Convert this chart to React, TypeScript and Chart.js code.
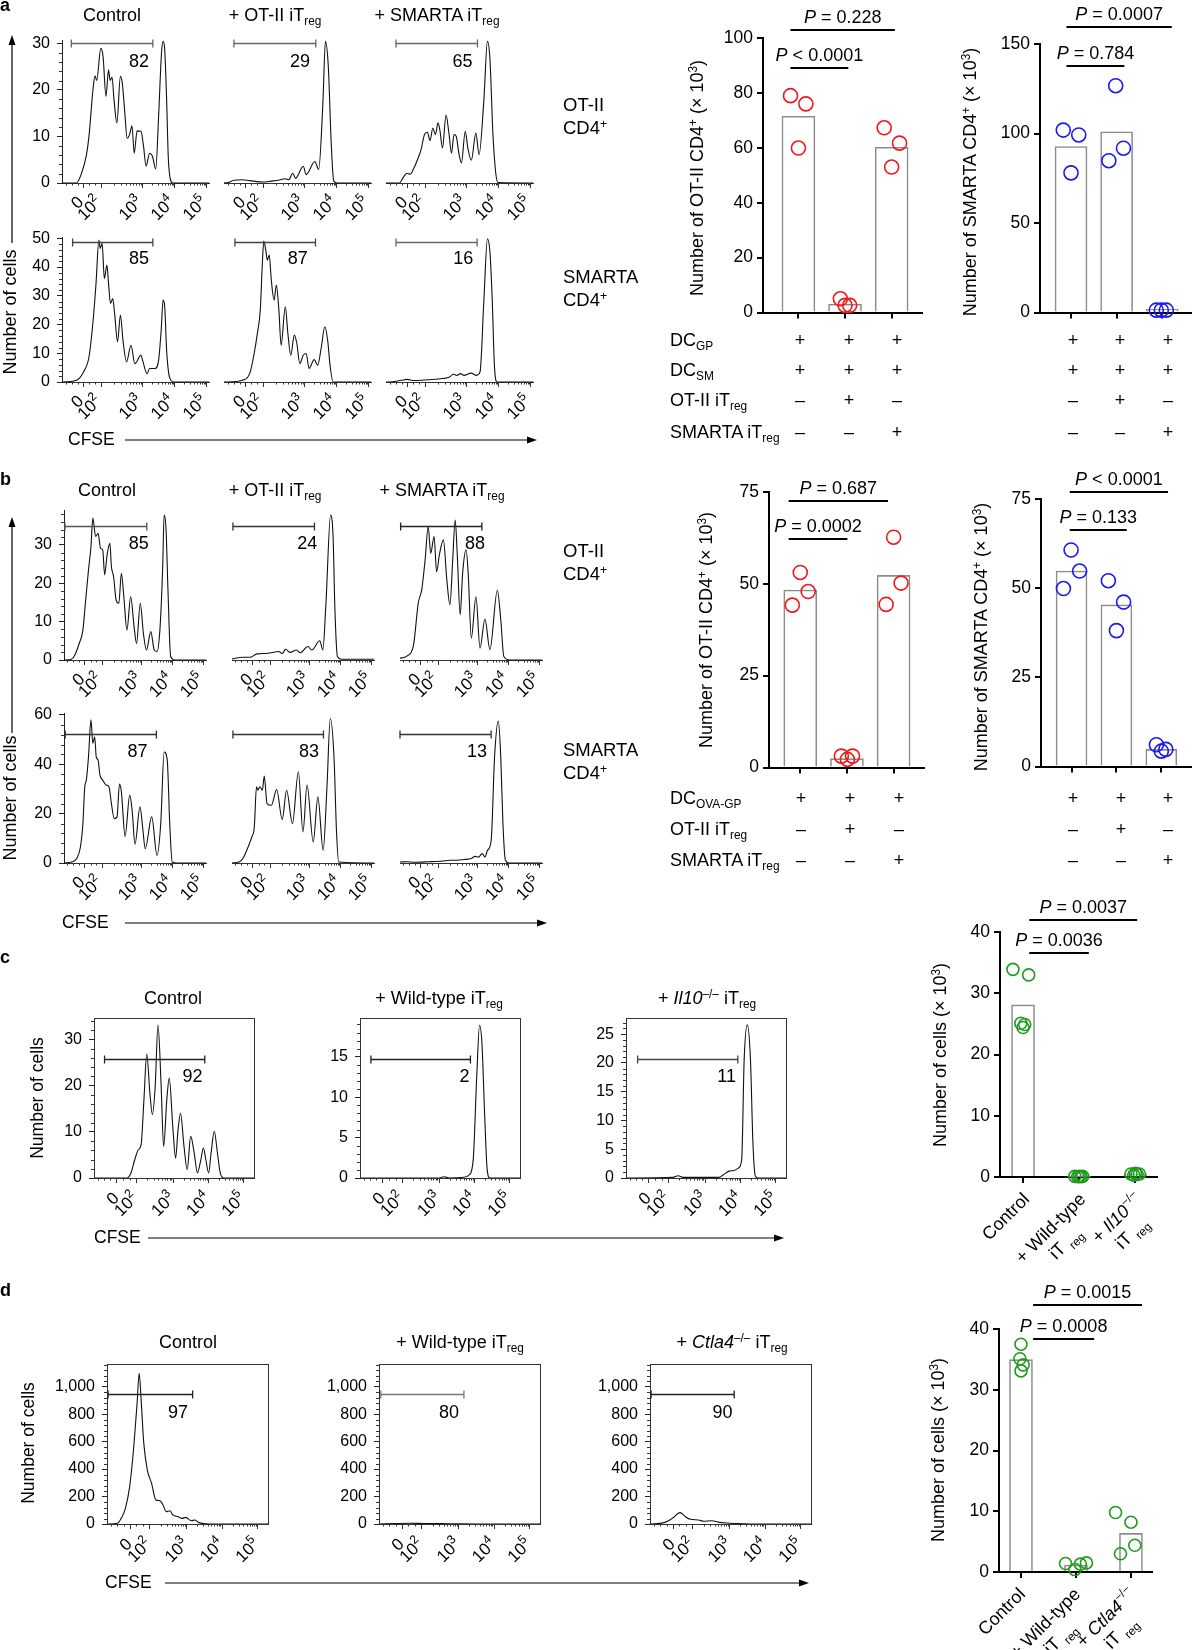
import React, { useEffect, useRef } from 'react';
import { Chart, registerables } from 'chart.js';

Chart.register(...registerables);

const FONT = '"Liberation Sans", Arial, Helvetica, sans-serif';
Chart.defaults.font.family = FONT;
Chart.defaults.color = '#000';

/* ---------------- tick labels ---------------- */
const X_TICK_BASE = ['0', '10', '10', '10', '10'];
const X_TICK_EXP = ['', '2', '3', '4', '5'];
const X_TICKS_AB = [1.16, 1.72, 3, 4, 5];
const X_TICKS_CD = [1.4, 1.95, 3, 4, 5];

/* ---------------- histogram series: [CFSE position, number of cells] ---------------- */
const aControlOT = [[0.49,0],[0.94,0],[1.10,2.1],[1.25,6],[1.33,10],[1.46,20.4],[1.52,23],[1.57,22],[1.70,28.9],[1.77,27.1],[1.86,18.6],[1.94,24.3],[1.99,22],[2.05,22.7],[2.11,17.9],[2.20,12.9],[2.31,22.9],[2.37,21.4],[2.44,15.7],[2.52,9.6],[2.60,10.5],[2.67,12.3],[2.74,6.4],[2.83,11.2],[2.95,11.1],[3.03,7.9],[3.11,3.6],[3.22,6.4],[3.31,5.7],[3.41,3.0],[3.50,14.3],[3.59,27.9],[3.64,30.4],[3.69,28.6],[3.75,17.9],[3.80,5.7],[3.87,0.7],[3.95,0],[5.07,0]];
const aOTiTregOT = [[0.49,0],[0.62,0.1],[0.8,0.6],[1.06,0.7],[1.29,0.5],[1.73,0.2],[1.96,0.4],[2.18,0.6],[2.40,0.9],[2.51,0.7],[2.63,2.1],[2.72,1.0],[2.96,3.6],[3.05,1.8],[3.32,4.6],[3.44,2.9],[3.57,17],[3.65,30.4],[3.74,25],[3.83,8.6],[3.91,0.4],[4.02,0],[5.07,0]];
const aSMiTregOT = [[0.49,0],[0.91,0],[1.02,1.1],[1.14,2.1],[1.25,1.9],[1.36,3.2],[1.47,5],[1.58,7.1],[1.69,10.4],[1.78,10.9],[1.86,9.1],[1.95,11.8],[2.03,10.4],[2.11,12.9],[2.17,11.3],[2.25,7.5],[2.36,14.6],[2.45,10.7],[2.53,6.4],[2.61,10.4],[2.68,10.0],[2.76,6.4],[2.84,4.3],[2.96,11.1],[3.04,7.5],[3.15,4.9],[3.29,10.7],[3.39,6.1],[3.54,17.9],[3.65,30.4],[3.73,26.4],[3.82,10.7],[3.91,2.1],[3.98,0.1],[5.07,0]];
const aControlSM = [[0.49,0],[0.52,0],[0.94,0.6],[1.16,3.5],[1.33,8.7],[1.46,21.5],[1.55,34.3],[1.64,49.4],[1.68,46.5],[1.74,48.3],[1.81,36],[1.89,40.7],[1.94,34.3],[2.00,27.3],[2.07,29],[2.13,23.8],[2.22,14],[2.31,23.3],[2.39,14.5],[2.50,7],[2.64,12.8],[2.76,6.4],[2.95,9.3],[3.00,7.6],[3.14,2.9],[3.22,4.7],[3.39,4.7],[3.50,7.6],[3.58,18],[3.64,28.5],[3.69,26.2],[3.75,11],[3.84,1.7],[3.98,0],[5.07,0]];
const aOTiTregSM = [[0.49,0],[0.62,0],[1.06,0.6],[1.29,2.9],[1.42,9.3],[1.53,16.9],[1.62,25],[1.68,40],[1.73,49],[1.79,46],[1.84,42.4],[1.90,44.2],[1.96,36],[2.05,28.5],[2.12,33.7],[2.20,25],[2.27,12.8],[2.40,26.2],[2.48,16.9],[2.57,9.3],[2.68,16.3],[2.76,13.4],[2.85,6.4],[2.96,9.3],[3.05,9.9],[3.14,4.7],[3.30,7.8],[3.41,5.8],[3.52,12],[3.63,19.2],[3.72,14.5],[3.80,5.2],[3.89,0],[5.07,0]];
const aSMiTregSM = [[0.49,0],[0.60,0],[0.97,0.6],[1.15,0.9],[1.36,0.5],[1.81,0.8],[2.25,1.2],[2.47,1.7],[2.58,2.7],[2.70,2.3],[2.81,2.9],[2.92,2.3],[3.14,3.1],[3.31,2.3],[3.42,3.5],[3.54,28.5],[3.65,49.8],[3.73,45],[3.80,28.5],[3.87,5.2],[3.95,0],[5.07,0]];

const bControlOT = [[0.49,0],[0.73,0.2],[0.84,1.3],[0.98,4.3],[1.10,7.8],[1.18,14.8],[1.28,23.5],[1.36,29.6],[1.42,37],[1.51,32.2],[1.59,33],[1.67,29.1],[1.74,28.7],[1.80,22.2],[1.88,27.4],[1.97,30.4],[2.02,24.3],[2.09,21.7],[2.17,15.7],[2.26,14.8],[2.34,22.6],[2.42,16.5],[2.52,7.8],[2.64,16.5],[2.75,8.7],[2.83,4.3],[2.95,14.8],[3.05,7],[3.15,2.6],[3.29,7.4],[3.40,2.6],[3.49,2.2],[3.59,8.7],[3.67,23.5],[3.72,37.8],[3.78,34.3],[3.84,19.1],[3.93,0.9],[4.07,0],[5.07,0]];
const bOTiTregOT = [[0.49,0.3],[0.84,0.7],[1.07,0.7],[1.30,1.6],[1.59,1.7],[1.76,1.9],[1.99,2.2],[2.11,1.7],[2.22,2.8],[2.36,2.0],[2.57,2.6],[2.69,1.9],[2.94,3.5],[3.06,2.6],[3.32,5.0],[3.42,2.6],[3.52,14.8],[3.67,37.8],[3.75,32.2],[3.81,13],[3.89,0.9],[4.01,0.2],[5.07,0.2]];
const bSMiTregOT = [[0.49,0.5],[0.51,0.5],[0.71,1.0],[0.92,3.6],[1.08,14.9],[1.19,18.3],[1.30,26.1],[1.40,34.8],[1.48,27.8],[1.59,32.2],[1.67,23.0],[1.76,27.4],[1.89,31.3],[2.00,20.9],[2.10,14.4],[2.19,26.1],[2.27,36.5],[2.34,26.9],[2.43,11.8],[2.51,22.6],[2.62,28.7],[2.69,22.6],[2.79,5.7],[2.94,16.5],[3.07,3.1],[3.23,10.7],[3.39,2.7],[3.63,18.2],[3.74,10.5],[3.84,0.9],[4.04,0],[5.07,0]];
const bControlSM = [[0.49,0],[0.73,0.4],[0.90,1.8],[1.02,6.5],[1.10,16],[1.16,30.9],[1.21,33.6],[1.28,43],[1.36,58],[1.42,48.5],[1.48,51.2],[1.53,43],[1.59,41.7],[1.65,35.6],[1.74,33.6],[1.85,31.6],[1.94,30.9],[2.02,24],[2.11,18],[2.20,18.7],[2.28,32],[2.34,29],[2.46,10.8],[2.61,27.5],[2.69,21],[2.78,7.6],[2.94,22.8],[3.03,14],[3.11,5.8],[3.32,18.7],[3.49,3.1],[3.61,16],[3.72,45],[3.82,41.7],[3.90,16],[3.98,0.4],[4.13,0],[5.07,0]];
const bOTiTregSM = [[0.49,0],[0.72,0.4],[0.84,1.8],[1.01,6.5],[1.13,10.6],[1.21,14.6],[1.28,30.9],[1.32,29.5],[1.39,30.9],[1.47,29.5],[1.53,35.2],[1.62,24.1],[1.76,23.4],[1.93,29.8],[2.11,17.6],[2.25,29.5],[2.44,16],[2.63,37],[2.78,12.6],[2.91,31.6],[3.11,8.5],[3.26,26.8],[3.43,5.1],[3.55,30],[3.66,58.6],[3.78,43],[3.86,13],[3.93,0.4],[5.07,0]];
const bSMiTregSM = [[0.49,0.4],[0.72,0.5],[0.95,0.3],[1.41,0.5],[1.87,0.8],[2.10,1.1],[2.33,1.1],[2.56,1.4],[2.79,1.8],[2.91,2.7],[3.02,2.4],[3.14,3.8],[3.23,2.4],[3.31,5.1],[3.43,9],[3.54,43],[3.66,57.5],[3.74,43],[3.81,16],[3.89,1.1],[4.00,0],[5.07,0]];

const cControl = [[0.75,0],[1.69,0],[1.80,1.1],[1.91,4],[2.01,6.1],[2.09,7.2],[2.17,16.9],[2.25,26.8],[2.34,18.3],[2.41,13.7],[2.49,19.8],[2.57,33.1],[2.66,19.8],[2.73,6.8],[2.82,16.9],[2.89,21.6],[2.99,11.2],[3.07,4.3],[3.14,10.4],[3.21,14],[3.31,6.8],[3.40,1.8],[3.50,9],[3.60,5.4],[3.69,1.1],[3.79,4],[3.86,6.5],[3.93,4],[4.01,1.1],[4.08,5.4],[4.17,10.1],[4.26,5.4],[4.34,1.1],[4.44,0],[5.3,0]];
const cWildType = [[0.75,0],[3.0,0],[3.13,0.15],[3.3,0],[3.71,0.1],[3.86,0.4],[3.97,2.3],[4.07,12.6],[4.15,18.9],[4.22,16.5],[4.29,8.4],[4.36,1.4],[4.44,0],[5.3,0]];
const cIl10 = [[0.75,0],[2.09,0.1],[2.23,0.4],[2.37,0.1],[3.39,0.1],[3.53,0.6],[3.68,1.2],[3.82,1.3],[3.94,1.7],[4.04,3.2],[4.11,20.5],[4.20,26.6],[4.29,20.5],[4.36,6],[4.43,0.3],[4.5,0],[5.3,0]];

const dControl = [[0.75,0],[1.05,5],[1.15,41],[1.27,114],[1.39,272],[1.49,515],[1.60,879],[1.66,1097],[1.72,880],[1.79,587],[1.89,393],[2.01,296],[2.13,175],[2.24,170],[2.31,150],[2.43,90],[2.53,97],[2.61,66],[2.76,53],[2.87,41],[2.98,48],[3.13,24],[3.23,29],[3.35,10],[3.65,0],[5.3,0]];
const dWildType = [[0.75,0],[1.2,3],[1.6,5],[2.0,4],[2.5,3],[3.0,1],[3.5,0],[5.3,0]];
const dCtla4 = [[0.75,0],[1.15,10],[1.38,41],[1.60,83],[1.74,55],[1.89,34],[2.12,29],[2.27,20],[2.49,24],[2.71,12],[2.93,7],[3.38,2],[3.6,0],[5.3,0]];

/* ---------------- gates: [from, to, level] and percentages ---------------- */
const gatesA = [[0.78,3.32,30.1],[0.80,3.35,30.1],[0.80,3.34,30.1],[0.82,3.32,48.8],[0.83,3.34,48.8],[0.80,3.33,48.8]];
const pctA = ['82', '29', '65', '85', '87', '16'];
const pctPosA = [[2.89,26.0],[2.86,26.0],[2.87,26.0],[2.89,42.7],[2.79,42.7],[2.90,42.7]];
const gatesB = [[0.52,3.16,35.0],[0.52,3.15,35.0],[0.51,3.13,35.0],[0.53,3.47,52.3],[0.52,3.44,52.3],[0.49,3.43,52.3]];
const pctB = ['85', '24', '88', '87', '83', '13'];
const pctPosB = [[2.90,30.2],[2.92,30.2],[2.91,30.2],[2.86,45.1],[2.97,45.1],[2.97,45.1]];
const gatesC = [[1.05,3.90,25.7],[1.06,3.89,14.7],[1.08,3.93,20.7]];
const pctC = ['92', '2', '11'];
const pctPosC = [[3.55,21.9],[3.72,12.5],[3.61,17.6]];
const gatesD = [[0.78,3.17,944],[0.80,3.15,944],[0.78,3.13,944]];
const pctD = ['97', '80', '90'];
const pctPosD = [[2.76,806],[2.73,806],[2.80,806]];

/* ---------------- bar charts: means and individual mice [x jitter, value] ---------------- */
const barsA1 = [71.5, 3.0, 60.2];
const dotsA1 = [[-0.17,79.0],[0.16,76.0],[0.0,59.9],[0.90,5.0],[1.0,2.6],[1.1,2.6],[1.84,67.3],[2.17,61.7],[2.0,53.0]];
const barsA2 = [92.7, 101.0, 1.8];
const dotsA2 = [[-0.17,101.9],[0.17,99.2],[0.0,78.0],[0.98,126.7],[0.83,84.8],[1.15,91.8],[1.87,1.3],[1.98,1.3],[2.09,1.3]];
const barsB1 = [48.3, 2.4, 52.3];
const dotsB1 = [[0.0,53.1],[0.17,47.9],[-0.17,44.2],[0.88,3.1],[1.12,3.1],[1.01,2.2],[2.0,62.7],[2.16,50.2],[1.84,44.4]];
const barsB2 = [54.8, 45.3, 4.8];
const dotsB2 = [[-0.01,60.7],[0.18,54.8],[-0.18,49.9],[0.82,52.1],[1.16,46.1],[1.0,38.1],[1.89,6.1],[2.0,4.3],[2.1,4.8]];
const barsC = [28.1, 0.1, 0.4];
const dotsC = [[-0.18,33.9],[0.10,33.0],[-0.04,25.1],[0.0,24.4],[0.03,24.9],[0.92,0.1],[0.97,0.05],[1.0,0.1],[1.03,0.05],[1.06,0.1],[1.92,0.5],[1.97,0.3],[2.0,0.6],[2.03,0.4],[2.07,0.5]];
const barsD = [34.95, 1.15, 6.35];
const dotsD = [[0.0,37.5],[-0.02,35.1],[0.04,34.1],[0.0,33.1],[0.81,1.4],[0.98,0.4],[1.08,1.3],[1.19,1.5],[1.72,9.8],[2.0,8.2],[2.07,4.4],[1.81,3.0]];

/* P-value brackets: [from, to, level, text after P] */
const brA1 = [[-0.17, 1.07, 89, ' < 0.0001'], [-0.17, 2.07, 103, ' = 0.228']];
const brA2 = [[-0.1, 1.17, 137.7, ' = 0.784'], [-0.1, 2.21, 159.4, ' = 0.0007']];
const brB1 = [[-0.25, 1.01, 62.1, ' = 0.0002'], [-0.25, 1.88, 72.6, ' = 0.687']];
const brB2 = [[-0.04, 1.23, 66.3, ' = 0.133'], [-0.04, 2.15, 77, ' < 0.0001']];
const brC = [[0.11, 1.17, 36.6, ' = 0.0036'], [0.11, 2.03, 41.9, ' = 0.0037']];
const brD = [[0.22, 1.33, 38.4, ' = 0.0008'], [0.22, 2.2, 44, ' = 0.0015']];

/* condition tables */
const condA = [['+','+','+'],['+','+','+'],['–','+','–'],['–','–','+']];
const condB = [['+','+','+'],['–','+','–'],['–','–','+']];

/* ---------------- rich text on canvas ---------------- */
type Run = { t: string; i?: boolean; sub?: boolean; sup?: boolean };
function runFont(r: Run, size: number, ss: number) {
  const s = r.sub || r.sup ? size * ss : size;
  return `${r.i ? 'italic ' : ''}${s}px ${FONT}`;
}
function runsWidth(ctx: CanvasRenderingContext2D, runs: Run[], size: number, ss = 0.66) {
  let w = 0;
  for (const r of runs) { ctx.font = runFont(r, size, ss); w += ctx.measureText(r.t).width; }
  return w;
}
function drawRuns(ctx: CanvasRenderingContext2D, runs: Run[], x: number, y: number, size: number, align: string, ss = 0.66) {
  const w = runsWidth(ctx, runs, size, ss);
  let cx = align === 'center' ? x - w / 2 : align === 'right' ? x - w : x;
  ctx.textAlign = 'left';
  ctx.textBaseline = 'alphabetic';
  for (const r of runs) {
    ctx.font = runFont(r, size, ss);
    const dy = r.sub ? size * 0.28 : r.sup ? -size * 0.42 : 0;
    ctx.fillText(r.t, cx, y + dy);
    cx += ctx.measureText(r.t).width;
  }
}

const LBL_C: Run[][][] = [
  [[{ t: 'Control' }]],
  [[{ t: '+ Wild-type' }], [{ t: 'iT ' }, { t: 'reg', sub: true }]],
  [[{ t: '+ ' }, { t: 'Il10', i: true }, { t: '−/−', sup: true }], [{ t: 'iT ' }, { t: 'reg', sub: true }]],
];
const LBL_D: Run[][][] = [
  [[{ t: 'Control' }]],
  [[{ t: '+ Wild-type' }], [{ t: 'iT ' }, { t: 'reg', sub: true }]],
  [[{ t: '+ ' }, { t: 'Ctla4', i: true }, { t: '−/−', sup: true }], [{ t: 'iT ' }, { t: 'reg', sub: true }]],
];

/* ---------------- histogram charts ---------------- */
const H_PT = 22, H_PR = 20, H_XH = 48;

function xMinorTicks(xt: number[], xr: number[]) {
  const out: number[] = [];
  for (let m = 2; m <= 9; m++) {
    const l = Math.log10(m);
    out.push(xt[1] + (3 - xt[1]) * l, 3 + l, 4 + l, 5 + l);
  }
  const step = (xt[1] - xt[0]) / 3;
  for (let v = xt[0] - step; v > xr[0]; v -= step) out.push(v);
  out.push(xt[0] + step, xt[0] + 2 * step);
  return out.filter((v) => v > xr[0] + 0.02 && v < xr[1] - 0.02);
}

function makeHist(plot: number[], data: number[][], ymax: number, ymaj: number[], yminStep: number, showY: boolean,
  frame: boolean, gate: number[], pct: string, pctAt: number[], xr: number[], xt: number[], yw: number, gateColor: string, lab: number[]) {
  return { plot, data, ymax, ymaj, yminStep, showY, frame, gate, pct, pctAt, xr, xt, yw, gateColor, lab };
}

const A_L = [62, 224, 386], B_L = [64, 232, 400], C_L = [94, 360, 626], D_L = [107, 379, 650];
const AB_XR = [0.49, 5.07], CD_XR = [0.75, 5.3];
const DMAJ = [0, 200, 400, 600, 800, 1000];
const LAB_AB = [1, 20], LAB_CD = [3, 21];

const HISTS = [
  makeHist([A_L[0], 40, 147, 143], aControlOT, 30.7, [0, 10, 20, 30], 2, true, false, gatesA[0], pctA[0], pctPosA[0], AB_XR, X_TICKS_AB, 45, '#666', LAB_AB),
  makeHist([A_L[1], 40, 147, 143], aOTiTregOT, 30.7, [0, 10, 20, 30], 2, false, false, gatesA[1], pctA[1], pctPosA[1], AB_XR, X_TICKS_AB, 45, '#666', LAB_AB),
  makeHist([A_L[2], 40, 147, 143], aSMiTregOT, 30.7, [0, 10, 20, 30], 2, false, false, gatesA[2], pctA[2], pctPosA[2], AB_XR, X_TICKS_AB, 45, '#666', LAB_AB),
  makeHist([A_L[0], 237, 147, 145], aControlSM, 50.45, [0, 10, 20, 30, 40, 50], 2, true, false, gatesA[3], pctA[3], pctPosA[3], AB_XR, X_TICKS_AB, 45, '#444', LAB_AB),
  makeHist([A_L[1], 237, 147, 145], aOTiTregSM, 50.45, [0, 10, 20, 30, 40, 50], 2, false, false, gatesA[4], pctA[4], pctPosA[4], AB_XR, X_TICKS_AB, 45, '#444', LAB_AB),
  makeHist([A_L[2], 237, 147, 145], aSMiTregSM, 50.45, [0, 10, 20, 30, 40, 50], 2, false, false, gatesA[5], pctA[5], pctPosA[5], AB_XR, X_TICKS_AB, 45, '#666', LAB_AB),
  makeHist([B_L[0], 510, 142, 150], bControlOT, 39.1, [0, 10, 20, 30], 2, true, false, gatesB[0], pctB[0], pctPosB[0], AB_XR, X_TICKS_AB, 45, '#555', LAB_AB),
  makeHist([B_L[1], 510, 142, 150], bOTiTregOT, 39.1, [0, 10, 20, 30], 2, false, false, gatesB[1], pctB[1], pctPosB[1], AB_XR, X_TICKS_AB, 45, '#333', LAB_AB),
  makeHist([B_L[2], 510, 142, 150], bSMiTregOT, 39.1, [0, 10, 20, 30], 2, false, false, gatesB[2], pctB[2], pctPosB[2], AB_XR, X_TICKS_AB, 45, '#222', LAB_AB),
  makeHist([B_L[0], 713, 142, 150], bControlSM, 60.8, [0, 20, 40, 60], 4, true, false, gatesB[3], pctB[3], pctPosB[3], AB_XR, X_TICKS_AB, 45, '#333', LAB_AB),
  makeHist([B_L[1], 713, 142, 150], bOTiTregSM, 60.8, [0, 20, 40, 60], 4, false, false, gatesB[4], pctB[4], pctPosB[4], AB_XR, X_TICKS_AB, 45, '#333', LAB_AB),
  makeHist([B_L[2], 713, 142, 150], bSMiTregSM, 60.8, [0, 20, 40, 60], 4, false, false, gatesB[5], pctB[5], pctPosB[5], AB_XR, X_TICKS_AB, 45, '#333', LAB_AB),
  makeHist([C_L[0], 1018, 160, 160], cControl, 34.6, [0, 10, 20, 30], 2, true, true, gatesC[0], pctC[0], pctPosC[0], CD_XR, X_TICKS_CD, 45, '#222', LAB_CD),
  makeHist([C_L[1], 1018, 160, 160], cWildType, 19.8, [0, 5, 10, 15], 1, true, true, gatesC[1], pctC[1], pctPosC[1], CD_XR, X_TICKS_CD, 45, '#222', LAB_CD),
  makeHist([C_L[2], 1018, 160, 160], cIl10, 27.8, [0, 5, 10, 15, 20, 25], 1, true, true, gatesC[2], pctC[2], pctPosC[2], CD_XR, X_TICKS_CD, 45, '#444', LAB_CD),
  makeHist([D_L[0], 1364, 161, 160], dControl, 1165, DMAJ, 40, true, true, gatesD[0], pctD[0], pctPosD[0], CD_XR, X_TICKS_CD, 60, '#222', LAB_CD),
  makeHist([D_L[1], 1364, 161, 160], dWildType, 1165, DMAJ, 40, true, true, gatesD[1], pctD[1], pctPosD[1], CD_XR, X_TICKS_CD, 60, '#777', LAB_CD),
  makeHist([D_L[2], 1364, 161, 160], dCtla4, 1165, DMAJ, 40, true, true, gatesD[2], pctD[2], pctPosD[2], CD_XR, X_TICKS_CD, 60, '#222', LAB_CD),
];

function histRect(s: any) {
  return [s.plot[0] - s.yw, s.plot[1] - H_PT, s.plot[2] + s.yw + H_PR, s.plot[3] + H_PT + H_XH];
}

function histConfig(s: any) {
  const minorX = xMinorTicks(s.xt, s.xr);
  const minorY: number[] = [];
  if (s.showY) {
    for (let k = 0; k * s.yminStep <= s.ymax + 1e-9; k++) {
      const v = k * s.yminStep;
      if (!s.ymaj.some((m: number) => Math.abs(m - v) < 1e-6)) minorY.push(v);
    }
  }
  const deco = {
    id: 'histDeco',
    afterDraw(chart: any) {
      const { ctx, chartArea: a } = chart;
      const x = chart.scales.x, y = chart.scales.y;
      ctx.save();
      ctx.strokeStyle = '#333';
      ctx.lineWidth = 1;
      ctx.beginPath();
      for (const v of minorX) {
        const px = Math.round(x.getPixelForValue(v)) + 0.5;
        ctx.moveTo(px, a.bottom);
        ctx.lineTo(px, a.bottom + 2.5);
      }
      for (const v of minorY) {
        const py = Math.round(y.getPixelForValue(v)) + 0.5;
        ctx.moveTo(a.left, py);
        ctx.lineTo(a.left - 3, py);
      }
      ctx.stroke();
      if (s.frame) {
        ctx.strokeStyle = '#333';
        ctx.strokeRect(Math.round(a.left) + 0.5, Math.round(a.top) + 0.5, Math.round(a.right - a.left), Math.round(a.bottom - a.top));
      }
      // rotated CFSE tick labels
      ctx.fillStyle = '#000';
      s.xt.forEach((v: number, i: number) => {
        const px = x.getPixelForValue(v);
        ctx.save();
        ctx.translate(px + s.lab[0], a.bottom + s.lab[1]);
        ctx.rotate(-Math.PI / 4);
        const runs: Run[] = [{ t: X_TICK_BASE[i] }];
        if (X_TICK_EXP[i]) runs.push({ t: X_TICK_EXP[i], sup: true });
        drawRuns(ctx, runs, 0, 0, 17, 'right', 0.72);
        ctx.restore();
      });
      // gate
      const gy = Math.round(y.getPixelForValue(s.gate[2])) + 0.5;
      const g1 = x.getPixelForValue(s.gate[0]);
      const g2 = x.getPixelForValue(s.gate[1]);
      ctx.strokeStyle = s.gateColor;
      ctx.lineWidth = 1.3;
      ctx.beginPath();
      ctx.moveTo(g1, gy); ctx.lineTo(g2, gy);
      ctx.moveTo(g1, gy - 4); ctx.lineTo(g1, gy + 4);
      ctx.moveTo(g2, gy - 4); ctx.lineTo(g2, gy + 4);
      ctx.stroke();
      ctx.fillStyle = '#000';
      ctx.font = `18px ${FONT}`;
      ctx.textAlign = 'center';
      ctx.textBaseline = 'middle';
      ctx.fillText(s.pct, x.getPixelForValue(s.pctAt[0]), y.getPixelForValue(s.pctAt[1]));
      ctx.restore();
    },
  };
  return {
    type: 'line',
    data: {
      datasets: [{
        data: s.data.map((p: number[]) => ({ x: p[0], y: p[1] })),
        borderColor: '#111', borderWidth: 1.1, pointRadius: 0, fill: false,
        cubicInterpolationMode: 'monotone', clip: false,
      }],
    },
    options: {
      responsive: false, animation: false, events: [], devicePixelRatio: 1,
      layout: { padding: { left: 0, top: H_PT, right: H_PR, bottom: 0 } },
      plugins: { legend: { display: false }, tooltip: { enabled: false }, title: { display: false } },
      scales: {
        x: {
          type: 'linear', min: s.xr[0], max: s.xr[1], bounds: 'data',
          afterBuildTicks: (sc: any) => { sc.ticks = s.xt.map((v: number) => ({ value: v })); },
          afterFit: (sc: any) => { sc.height = H_XH; },
          ticks: { display: false },
          grid: { display: true, drawOnChartArea: false, drawTicks: true, tickLength: 5, color: '#333', lineWidth: 1 },
          border: { display: true, color: '#333', width: 1 },
        },
        y: {
          type: 'linear', min: 0, max: s.ymax, bounds: 'data',
          afterBuildTicks: (sc: any) => { sc.ticks = s.ymaj.map((v: number) => ({ value: v })); },
          afterFit: (sc: any) => { sc.width = s.yw; },
          ticks: { display: s.showY, padding: 7, color: '#000', font: { size: 16 },
            callback: (v: any) => Number(v).toLocaleString('en-US') },
          grid: { display: s.showY, drawOnChartArea: false, drawTicks: true, tickLength: 5, color: '#222', lineWidth: 1 },
          border: { display: s.showY, color: '#222', width: 1 },
        },
      },
    },
    plugins: [deco],
  };
}

/* ---------------- bar charts ---------------- */
const RED = '#f01818', BLUE = '#1a1af0', GREEN = '#1f9a1f';
const BARS = [
  { top: 0, plot: [763, 38, 929, 317], xr: [-0.76, 2.66], ymax: 100, ystep: 20, bars: barsA1, dots: dotsA1, color: RED, r: 7, bw: 33, br: brA1, lbl: null, xh: 10, la: [0, 0] },
  { top: 0, plot: [1040, 44, 1198, 317], xr: [-0.68, 2.64], ymax: 150, ystep: 50, bars: barsA2, dots: dotsA2, color: BLUE, r: 7, bw: 32, br: brA2, lbl: null, xh: 10, la: [0, 0] },
  { top: 462, plot: [769, 492, 931, 772], xr: [-0.67, 2.66], ymax: 75, ystep: 25, bars: barsB1, dots: dotsB1, color: RED, r: 7, bw: 33, br: brB1, lbl: null, xh: 10, la: [0, 0] },
  { top: 462, plot: [1041, 499, 1198, 771], xr: [-0.68, 2.67], ymax: 75, ystep: 25, bars: barsB2, dots: dotsB2, color: BLUE, r: 7, bw: 31, br: brB2, lbl: null, xh: 10, la: [0, 0] },
  { top: 885, plot: [1000, 932, 1163, 1177], xr: [-0.41, 2.39], ymax: 40, ystep: 10, bars: barsC, dots: dotsC, color: GREEN, r: 6, bw: 23, br: brC, lbl: LBL_C, xh: 92, la: [3, 19] },
  { top: 1275, plot: [999, 1329, 1158, 1572], xr: [-0.40, 2.39], ymax: 40, ystep: 10, bars: barsD, dots: dotsD, color: GREEN, r: 6, bw: 23, br: brD, lbl: LBL_D, xh: 78, la: [1, 19] },
];
const B_YW = 50, B_PR = 2;

function barRect(s: any) {
  return [s.plot[0] - B_YW, s.top, s.plot[2] - s.plot[0] + B_YW + B_PR, s.plot[3] - s.top + s.xh];
}

function barConfig(s: any) {
  const yt: number[] = [];
  for (let v = 0; v <= s.ymax + 1e-9; v += s.ystep) yt.push(v);
  const deco = {
    id: 'barDeco',
    afterDraw(chart: any) {
      const { ctx, chartArea: a } = chart;
      const x = chart.scales.x, y = chart.scales.y;
      ctx.save();
      ctx.strokeStyle = '#000';
      ctx.fillStyle = '#000';
      ctx.lineWidth = 2;
      for (const b of s.br) {
        const x1 = x.getPixelForValue(b[0]);
        const x2 = x.getPixelForValue(b[1]);
        const py = Math.round(y.getPixelForValue(b[2]));
        ctx.beginPath();
        ctx.moveTo(x1, py); ctx.lineTo(x2, py);
        ctx.stroke();
        drawRuns(ctx, [{ t: 'P', i: true }, { t: b[3] }], (x1 + x2) / 2, py - 7, 18, 'center');
      }
      if (s.lbl) {
        s.lbl.forEach((lines: Run[][], i: number) => {
          const px = x.getPixelForValue(i);
          ctx.save();
          ctx.translate(px + s.la[0], a.bottom + s.la[1]);
          ctx.rotate(-Math.PI / 4);
          const widths = lines.map((l) => runsWidth(ctx, l, 18));
          const maxW = Math.max(...widths);
          lines.forEach((l, k) => drawRuns(ctx, l, -maxW / 2, k * 21 + 6, 18, 'center'));
          ctx.restore();
        });
      }
      ctx.restore();
    },
  };
  return {
    type: 'bar',
    data: {
      datasets: [
        {
          type: 'scatter', data: s.dots.map((p: number[]) => ({ x: p[0], y: p[1] })), order: 0, clip: false,
          pointRadius: s.r, pointBorderColor: s.color, pointBackgroundColor: 'rgba(0,0,0,0)', pointBorderWidth: 1.6,
          showLine: false,
        },
        {
          type: 'bar', data: s.bars.map((v: number, i: number) => ({ x: i, y: v })), order: 1,
          backgroundColor: '#ffffff', borderColor: '#8c8c8c', borderWidth: 1.6, barThickness: s.bw, borderSkipped: 'start',
        },
      ],
    },
    options: {
      responsive: false, animation: false, events: [], devicePixelRatio: 1,
      layout: { padding: { left: 0, top: s.plot[1] - s.top, right: B_PR, bottom: 0 } },
      plugins: { legend: { display: false }, tooltip: { enabled: false }, title: { display: false } },
      scales: {
        x: {
          type: 'linear', min: s.xr[0], max: s.xr[1], bounds: 'data', offset: false, z: 1,
          afterBuildTicks: (sc: any) => { sc.ticks = [0, 1, 2].map((v) => ({ value: v })); },
          afterFit: (sc: any) => { sc.height = s.xh; },
          ticks: { display: false },
          grid: { display: true, offset: false, drawOnChartArea: false, drawTicks: true, tickLength: 6, color: '#000', lineWidth: 2 },
          border: { display: true, color: '#000', width: 2 },
        },
        y: {
          type: 'linear', min: 0, max: s.ymax, bounds: 'data',
          afterBuildTicks: (sc: any) => { sc.ticks = yt.map((v) => ({ value: v })); },
          afterFit: (sc: any) => { sc.width = B_YW; },
          ticks: { padding: 4, color: '#000', font: { size: 17.5 }, callback: (v: any) => String(v) },
          grid: { display: true, drawOnChartArea: false, drawTicks: true, tickLength: 6, color: '#000', lineWidth: 2 },
          border: { display: true, color: '#000', width: 2 },
        },
      },
    },
    plugins: [deco],
  };
}

/* ---------------- components ---------------- */
function ChartCanvas({ rect, make }: { rect: number[]; make: () => any }) {
  const ref = useRef<HTMLCanvasElement | null>(null);
  useEffect(() => {
    if (!ref.current) return;
    const chart = new Chart(ref.current, make());
    return () => chart.destroy();
  }, []);
  return (
    <canvas ref={ref} width={rect[2]} height={rect[3]}
      style={{ position: 'absolute', left: rect[0], top: rect[1], width: rect[2], height: rect[3] }} />
  );
}

const Sub = ({ children }: any) => <span style={{ fontSize: '0.66em', position: 'relative', top: '0.32em' }}>{children}</span>;
const Sup = ({ children }: any) => <span style={{ fontSize: '0.66em', position: 'relative', top: '-0.5em' }}>{children}</span>;

function Txt({ x, y, size = 18, align = 'c', rot = 0, bold = false, children }: any) {
  const tx = align === 'l' ? '0%' : align === 'r' ? '-100%' : '-50%';
  return (
    <div style={{ position: 'absolute', left: x, top: y, fontSize: size, lineHeight: 1, fontWeight: bold ? 700 : 400,
      whiteSpace: 'nowrap', transform: `translate(${tx}, -50%) rotate(${rot}deg)` }}>{children}</div>
  );
}

const iTreg = <>iT<Sub>reg</Sub></>;
const CD4p = <>CD4<Sup>+</Sup></>;
const x10 = <>(× 10<Sup>3</Sup>)</>;

function CondTable({ labels, rows, ys, cols }: any) {
  return (
    <>
      {labels.map((l: any, i: number) => <Txt key={'l' + i} x={670} y={ys[i]} align="l">{l}</Txt>)}
      {rows.map((r: string[], i: number) => cols.map((cx: number, j: number) => (
        <Txt key={`s${i}-${j}`} x={cx} y={ys[i]}>{r[j % 3]}</Txt>
      )))}
    </>
  );
}

export default function App() {
  return (
    <div style={{ position: 'absolute', left: 0, top: 0, width: 1200, height: 1650, overflow: 'hidden', background: '#fff', fontFamily: FONT, color: '#000' }}>
      {HISTS.map((s, i) => <ChartCanvas key={'h' + i} rect={histRect(s)} make={() => histConfig(s)} />)}
      {BARS.map((s, i) => <ChartCanvas key={'b' + i} rect={barRect(s)} make={() => barConfig(s)} />)}

      <svg width={1200} height={1650} style={{ position: 'absolute', left: 0, top: 0 }}>
        <line x1={12} y1={243} x2={12} y2={42} stroke="#000" strokeWidth={1.2} />
        <polygon points="12,35 8.5,45 15.5,45" fill="#000" />
        <line x1={12} y1={733} x2={12} y2={524} stroke="#000" strokeWidth={1.2} />
        <polygon points="12,517 8.5,527 15.5,527" fill="#000" />
        <line x1={125} y1={440} x2={528} y2={440} stroke="#000" strokeWidth={1.2} />
        <polygon points="537,440 527,436.5 527,443.5" fill="#000" />
        <line x1={125} y1={923} x2={538} y2={923} stroke="#000" strokeWidth={1.2} />
        <polygon points="547,923 537,919.5 537,926.5" fill="#000" />
        <line x1={148} y1={1238} x2={775} y2={1238} stroke="#000" strokeWidth={1.2} />
        <polygon points="784,1238 774,1234.5 774,1241.5" fill="#000" />
        <line x1={165} y1={1583} x2={800} y2={1583} stroke="#000" strokeWidth={1.2} />
        <polygon points="809,1583 799,1579.5 799,1586.5" fill="#000" />
      </svg>

      {/* panel letters */}
      <Txt x={0} y={5} size={18} bold align="l">a</Txt>
      <Txt x={0} y={479} size={18} bold align="l">b</Txt>
      <Txt x={0} y={957} size={18} bold align="l">c</Txt>
      <Txt x={0} y={1290} size={18} bold align="l">d</Txt>

      {/* histogram titles */}
      <Txt x={112} y={15}>Control</Txt>
      <Txt x={275} y={15}>+ OT-II {iTreg}</Txt>
      <Txt x={437} y={15}>+ SMARTA {iTreg}</Txt>
      <Txt x={107} y={490}>Control</Txt>
      <Txt x={275} y={490}>+ OT-II {iTreg}</Txt>
      <Txt x={442} y={490}>+ SMARTA {iTreg}</Txt>
      <Txt x={173} y={998}>Control</Txt>
      <Txt x={439} y={998}>+ Wild-type {iTreg}</Txt>
      <Txt x={707} y={998}>+ <i>Il10</i><Sup>–/–</Sup> {iTreg}</Txt>
      <Txt x={188} y={1342}>Control</Txt>
      <Txt x={460} y={1342}>+ Wild-type {iTreg}</Txt>
      <Txt x={732} y={1342}>+ <i>Ctla4</i><Sup>–/–</Sup> {iTreg}</Txt>

      {/* row labels */}
      <Txt x={563} y={105} size={18.5} align="l">OT-II</Txt>
      <Txt x={563} y={128} size={18.5} align="l">{CD4p}</Txt>
      <Txt x={563} y={277} size={18.5} align="l">SMARTA</Txt>
      <Txt x={563} y={300} size={18.5} align="l">{CD4p}</Txt>
      <Txt x={563} y={551} size={18.5} align="l">OT-II</Txt>
      <Txt x={563} y={574} size={18.5} align="l">{CD4p}</Txt>
      <Txt x={563} y={750} size={18.5} align="l">SMARTA</Txt>
      <Txt x={563} y={773} size={18.5} align="l">{CD4p}</Txt>

      {/* y axis titles of histograms */}
      <Txt x={10} y={312} rot={-90}>Number of cells</Txt>
      <Txt x={10} y={798} rot={-90}>Number of cells</Txt>
      <Txt x={38} y={1098} size={17.5} rot={-90}>Number of cells</Txt>
      <Txt x={29} y={1443} size={17.5} rot={-90}>Number of cells</Txt>

      {/* CFSE */}
      <Txt x={68} y={440} size={17.5} align="l">CFSE</Txt>
      <Txt x={62} y={923} size={17.5} align="l">CFSE</Txt>
      <Txt x={94} y={1238} size={17.5} align="l">CFSE</Txt>
      <Txt x={105} y={1583} size={17.5} align="l">CFSE</Txt>

      {/* bar chart y titles */}
      <Txt x={697} y={178} rot={-90}>Number of OT-II {CD4p} {x10}</Txt>
      <Txt x={970} y={182} rot={-90}>Number of SMARTA {CD4p} {x10}</Txt>
      <Txt x={706} y={630} rot={-90}>Number of OT-II {CD4p} {x10}</Txt>
      <Txt x={981} y={637} rot={-90}>Number of SMARTA {CD4p} {x10}</Txt>
      <Txt x={940} y={1055} rot={-90}>Number of cells {x10}</Txt>
      <Txt x={938} y={1450} rot={-90}>Number of cells {x10}</Txt>

      {/* condition tables */}
      <CondTable labels={[<>DC<Sub>GP</Sub></>, <>DC<Sub>SM</Sub></>, <>OT-II {iTreg}</>, <>SMARTA {iTreg}</>]}
        rows={condA} ys={[340, 370, 400, 432]} cols={[800, 849, 897, 1073, 1120, 1168]} />
      <CondTable labels={[<>DC<Sub>OVA-GP</Sub></>, <>OT-II {iTreg}</>, <>SMARTA {iTreg}</>]}
        rows={condB} ys={[798, 829, 860]} cols={[801, 850, 899, 1073, 1121, 1168]} />
    </div>
  );
}
